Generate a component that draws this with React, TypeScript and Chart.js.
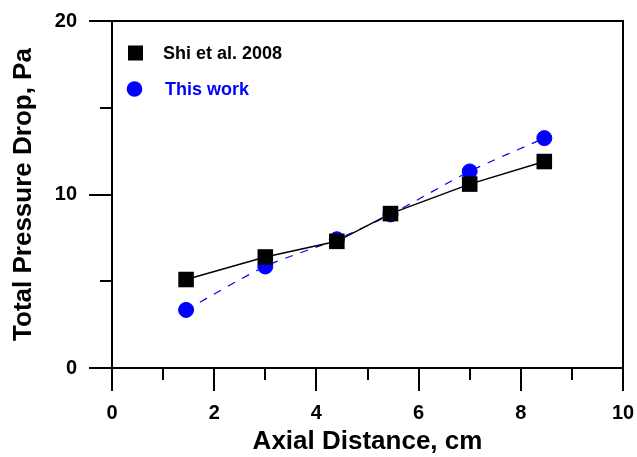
import React, { useEffect, useRef } from "react";
import { Chart, registerables } from "chart.js";

Chart.register(...registerables);

const distance = [1.45, 3.0, 4.4, 5.45, 7.0, 8.46];
const shiValues = [5.1, 6.4, 7.3, 8.9, 10.6, 11.9];
const workValues = [3.35, 5.85, 7.42, 8.85, 11.33, 13.25];
const seriesNames = ["Shi et al. 2008", "This work"];
const xMinorTicks = [1, 3, 5, 7, 9];
const yMinorTicks = [5, 15];

const FONT = "'Liberation Sans', Arial, sans-serif";

const framePlugin = {
  id: "frameAndMinor",
  afterDraw(chart: any) {
    const { ctx, chartArea } = chart;
    const xs = chart.scales.x;
    const ys = chart.scales.y;
    ctx.save();
    ctx.strokeStyle = "#000";
    ctx.lineWidth = 2;
    // top & right frame
    ctx.beginPath();
    ctx.moveTo(chartArea.left, chartArea.top);
    ctx.lineTo(chartArea.right, chartArea.top);
    ctx.lineTo(chartArea.right, chartArea.bottom);
    ctx.stroke();
    // minor ticks
    ctx.beginPath();
    for (const v of xMinorTicks) {
      const px = Math.round(xs.getPixelForValue(v));
      ctx.moveTo(px, chartArea.bottom);
      ctx.lineTo(px, chartArea.bottom + 12);
    }
    for (const v of yMinorTicks) {
      const py = Math.round(ys.getPixelForValue(v));
      ctx.moveTo(chartArea.left, py);
      ctx.lineTo(chartArea.left - 12, py);
    }
    ctx.stroke();

    // legend
    const ds = chart.data.datasets;
    ctx.font = `bold 18px ${FONT}`;
    ctx.textBaseline = "middle";
    ctx.textAlign = "left";
    ctx.fillStyle = ds[0].pointBackgroundColor;
    ctx.fillRect(128, 45.5, 15, 15);
    ctx.fillStyle = "#000";
    ctx.fillText(ds[0].label, 163, 54);
    ctx.fillStyle = ds[1].pointBackgroundColor;
    ctx.beginPath();
    ctx.arc(134.5, 89, 7.8, 0, Math.PI * 2);
    ctx.fill();
    ctx.fillStyle = "#0000FF";
    ctx.fillText(ds[1].label, 165, 90);
    ctx.restore();
  },
};

export default function App() {
  const ref = useRef<HTMLCanvasElement>(null);
  useEffect(() => {
    if (!ref.current) return;
    const chart = new Chart(ref.current, {
      type: "line",
      data: {
        datasets: [
          {
            label: seriesNames[0],
            data: distance.map((x, i) => ({ x, y: shiValues[i] })),
            borderColor: "#000",
            borderWidth: 1.5,
            pointStyle: "rect",
            pointRadius: 11,
            pointBackgroundColor: "#000",
            pointBorderColor: "#000",
            pointBorderWidth: 0,
            tension: 0,
          },
          {
            label: seriesNames[1],
            data: distance.map((x, i) => ({ x, y: workValues[i] })),
            borderColor: "#0000FF",
            borderWidth: 1.2,
            borderDash: [8, 8],
            pointStyle: "circle",
            pointRadius: 7.5,
            pointBackgroundColor: "#0000FF",
            pointBorderColor: "#0000FF",
            pointBorderWidth: 1,
            tension: 0.3,
          },
        ],
      },
      options: {
        animation: false,
        responsive: false,
        maintainAspectRatio: false,
        layout: { padding: { top: 21, right: 14, left: 0, bottom: 0 } },
        plugins: { legend: { display: false }, tooltip: { enabled: false } },
        scales: {
          x: {
            type: "linear",
            min: 0,
            max: 10,
            afterFit: (s: any) => {
              s.height = 89;
              s.paddingRight = 0;
              s.paddingLeft = 0;
            },
            ticks: {
              stepSize: 2,
              color: "#000",
              font: { family: FONT, size: 20, weight: "bold" },
              padding: 10,
              maxRotation: 0,
            },
            grid: {
              drawOnChartArea: false,
              drawTicks: true,
              tickLength: 23,
              color: "#000",
              lineWidth: 2,
            },
            border: { display: true, color: "#000", width: 2 },
            title: {
              display: true,
              text: "Axial Distance, cm",
              color: "#000",
              font: { family: FONT, size: 26, weight: "bold" },
              padding: { top: 0, bottom: 0 },
            },
          },
          y: {
            type: "linear",
            min: 0,
            max: 20,
            afterFit: (s: any) => {
              s.width = 112;
              s.paddingTop = 0;
              s.paddingBottom = 0;
            },
            ticks: {
              stepSize: 10,
              color: "#000",
              font: { family: FONT, size: 20, weight: "bold" },
              padding: 12,
            },
            grid: {
              drawOnChartArea: false,
              drawTicks: true,
              tickLength: 23,
              color: "#000",
              lineWidth: 2,
            },
            border: { display: true, color: "#000", width: 2 },
            title: {
              display: true,
              text: "Total Pressure Drop, Pa",
              color: "#000",
              font: { family: FONT, size: 26, weight: "bold" },
              padding: { top: 8, bottom: 0 },
            },
          },
        },
      },
      plugins: [framePlugin],
    });
    return () => chart.destroy();
  }, []);
  return (
    <div style={{ position: "fixed", left: 0, top: 0, width: 637, height: 457, background: "#fff" }}>
      <canvas ref={ref} width={637} height={457} />
    </div>
  );
}
